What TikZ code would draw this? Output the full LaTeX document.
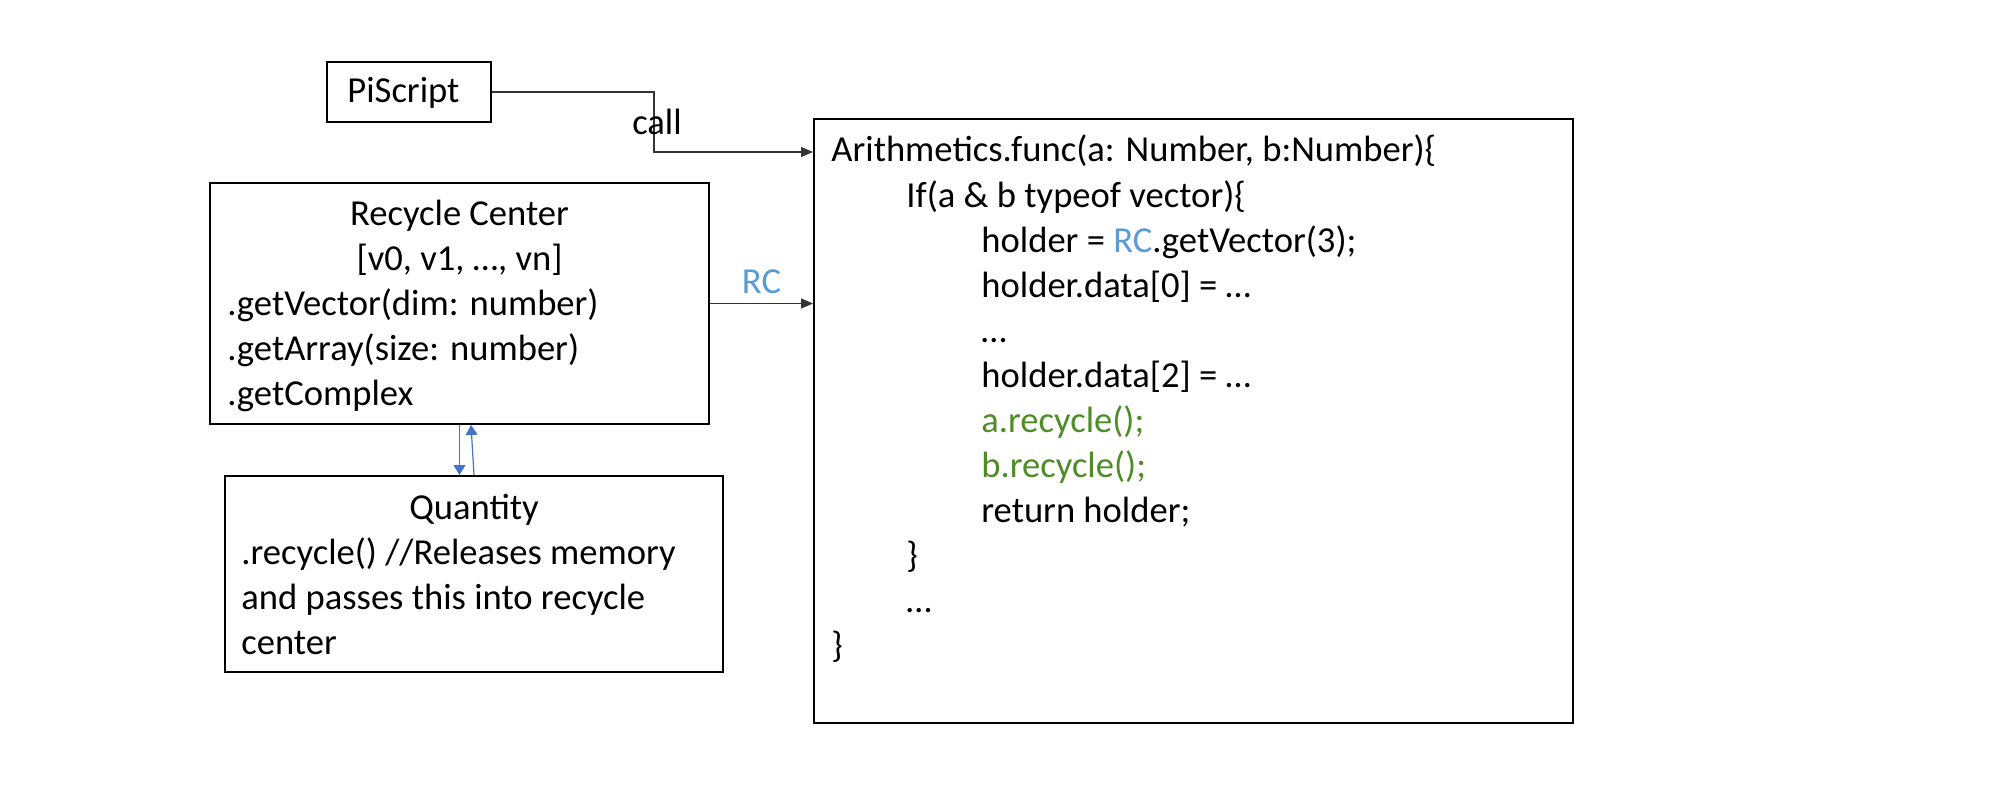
\documentclass[tikz,border=0pt]{standalone}
\usepackage{fontspec}
\setmainfont{Carlito}
\usetikzlibrary{arrows.meta}
\definecolor{rcblue}{HTML}{5B9BD5}
\definecolor{arrblue}{HTML}{4472C4}
\definecolor{codegreen}{RGB}{78,140,38}
\begin{document}
\begin{tikzpicture}[x=0.5pt, y=-0.5pt,
  font=\fontsize{18.3}{22.5}\selectfont,
  box/.style={draw, line width=1pt, inner sep=0pt, rectangle},
  txt/.style={inner sep=0pt, anchor=base west},
  ctxt/.style={inner sep=0pt, anchor=base},
  conn/.style={draw=black!80, line width=0.6pt, -{Triangle[length=6pt,width=5pt]}},
  bconn/.style={draw=arrblue, line width=0.6pt, -{Triangle[length=5pt,width=6pt]}},
  green/.style={text=codegreen}]
\useasboundingbox (0,0) rectangle (2000,797);

% PiScript
\node[box, minimum width=82pt, minimum height=30pt] (pi) at (409,92) {};
\node[txt] (pit) at (347,103) {PiScript};

% Recycle Center
\node[box, minimum width=249.5pt, minimum height=120.5pt] (rc) at (459.5,303.5) {};
\node[ctxt] (rc1) at (459.5,225) {Recycle Center};
\node[ctxt] (rc2) at (459.5,270) {[v0, v1, …, vn]};
\node[txt] (rc3) at (227,315) {.getVector(dim: number)};
\node[txt] (rc4) at (227,360) {.getArray(size: number)};
\node[txt] (rc5) at (227,405) {.getComplex};

% Quantity
\node[box, minimum width=249pt, minimum height=98pt] (qt) at (474,574) {};
\node[ctxt] (qt1) at (474,519) {Quantity};
\node[txt] (qt2) at (241,564) {.recycle() //Releases memory};
\node[txt] (qt3) at (241,609) {and passes this into recycle};
\node[txt] (qt4) at (241,654) {center};

% Arithmetics
\node[box, minimum width=379.5pt, minimum height=302pt] (ar) at (1193.5,421) {};
\node[txt] (l0) at (831,162) {Arithmetics.func(a: Number, b:Number)\{};
\node[txt] (l1) at (906,207) {If(a \& b typeof vector)\{};
\node[txt] (l2) at (981,252) {holder = \textcolor{rcblue}{RC}.getVector(3);};
\node[txt] (l3) at (981,297) {holder.data[0] = …};
\node[txt] (l4) at (981,342) {…};
\node[txt] (l5) at (981,387) {holder.data[2] = …};
\node[txt, green] (l6) at (981,432) {a.recycle();};
\node[txt, green] (l7) at (981,477) {b.recycle();};
\node[txt] (l8) at (981,522) {return holder;};
\node[txt] (l9) at (906,567) {\}};
\node[txt] (l10) at (906,612) {…};
\node[txt] (l11) at (831,657) {\}};

% connectors
\draw[conn] (pi.east) -- ++(162,0) |- ([yshift=-17pt]ar.north west);
\node[ctxt] (call) at (657,134) {call};
\draw[conn] (rc.east) -- (rc.east -| ar.west)
  node[midway, above, inner sep=4.5pt, text=rcblue] (rcl) {RC};
\draw[bconn] (rc.south) -- (rc.south |- qt.north);
\draw[bconn] (qt.north) -- ([xshift=-1.5pt]qt.north |- rc.south);
\end{tikzpicture}
\end{document}
